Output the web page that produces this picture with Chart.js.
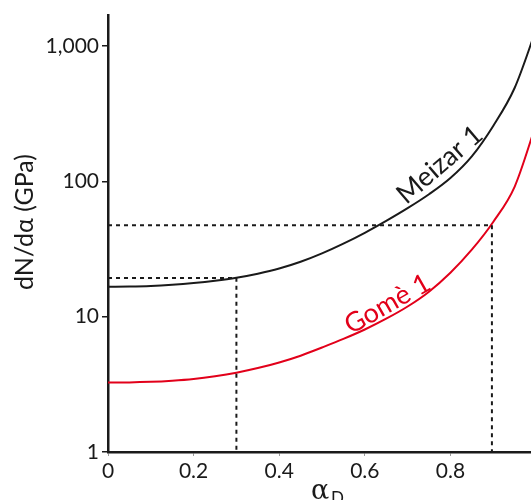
<!DOCTYPE html>
<html>
<head>
<meta charset="utf-8">
<script src="https://cdn.jsdelivr.net/npm/chart.js@4.4.1/dist/chart.umd.min.js"></script>
<style>
html,body{margin:0;padding:0;overflow:hidden;background:#fff;width:531px;height:500px;}
canvas{display:block;}
</style>
</head>
<body>
<canvas id="c" width="556" height="500"></canvas>
<script>
// ---- data ----
const alpha   = [0, 0.05, 0.1, 0.15, 0.2, 0.25, 0.3, 0.35, 0.4, 0.45, 0.5, 0.55, 0.6, 0.65, 0.7, 0.75, 0.8, 0.85, 0.9, 0.95, 1.0];
const meizar1 = [16.67, 16.71, 16.87, 17.22, 17.74, 18.45, 19.41, 20.8, 22.7, 25.47, 29.38, 34.67, 41.69, 51.05, 63.39, 80.35, 105.9, 153.1, 257, 490, 1318];
const gome1   = [3.266, 3.27, 3.30, 3.365, 3.467, 3.63, 3.855, 4.17, 4.59, 5.15, 5.92, 6.85, 8.04, 9.66, 11.89, 15.31, 21.13, 31.26, 50.1, 91.2, 263];
const guideX  = [0.3, 0.897];      // dashed vertical guides (alpha_D)
const guideY  = [19.3, 47.5];      // dashed horizontal guides (GPa)
const yTicks  = [1, 10, 100, 1000];
const xTicks  = [0, 0.2, 0.4, 0.6, 0.8, 1];
const seriesNames  = ['Meizar 1', 'Gomè 1'];
const labelAnchors = [[0.775, 133], [0.653, 12.4]]; // curve label anchor points (data coords)
const yTitle = 'dN/dα (GPa)';

const BLACK = '#1a1a1a', RED = '#e2001a';
const FONT = 'Lato, "Open Sans", sans-serif';

const toXY = (ys) => alpha.map((a, i) => ({x: a, y: ys[i]}));
const guide = (gx, gy) => [{x: 0, y: gy}, {x: gx, y: gy}, {x: gx, y: 1}];

const labelPlugin = {
  id: 'curveLabels',
  afterDatasetsDraw(chart) {
    const {ctx, scales: {x, y}} = chart;
    const specs = [
      {text: seriesNames[0], color: BLACK, angle: -40.7, a: labelAnchors[0]},
      {text: seriesNames[1], color: RED, angle: -29.6, a: labelAnchors[1]}
    ];
    specs.forEach(s => {
      ctx.save();
      ctx.translate(x.getPixelForValue(s.a[0]), y.getPixelForValue(s.a[1]));
      ctx.rotate(s.angle * Math.PI / 180);
      ctx.fillStyle = s.color;
      ctx.font = '27px ' + FONT;
      ctx.textAlign = 'center';
      ctx.textBaseline = 'middle';
      ctx.fillText(s.text, 0, 0);
      ctx.restore();
    });
    // y-axis title
    ctx.save();
    ctx.translate(25, 222);
    ctx.rotate(-Math.PI / 2);
    ctx.fillStyle = BLACK;
    ctx.font = '25px ' + FONT;
    ctx.textAlign = 'center';
    ctx.textBaseline = 'middle';
    ctx.fillText(yTitle, 0, 0);
    ctx.restore();
    // x-axis title alpha with subscript D
    ctx.save();
    ctx.fillStyle = BLACK;
    ctx.textBaseline = 'alphabetic';
    ctx.textAlign = 'left';
    ctx.font = '27px "DejaVu Serif", serif';
    ctx.fillText('α', 311, 499);
    ctx.font = '17px ' + FONT;
    ctx.fillText('D', 331, 504);
    ctx.restore();
  }
};

new Chart(document.getElementById('c'), {
  type: 'line',
  data: {
    datasets: [
      {label: 'guide1', data: guide(guideX[0], guideY[0]), borderColor: BLACK, borderWidth: 2, borderDash: [4, 4], pointRadius: 0, fill: false, tension: 0},
      {label: 'guide2', data: guide(guideX[1], guideY[1]), borderColor: BLACK, borderWidth: 2, borderDash: [4, 4], pointRadius: 0, fill: false, tension: 0},
      {label: seriesNames[0], data: toXY(meizar1), borderColor: BLACK, borderWidth: 2, pointRadius: 0, cubicInterpolationMode: 'monotone', fill: false},
      {label: seriesNames[1], data: toXY(gome1), borderColor: RED, borderWidth: 2, pointRadius: 0, cubicInterpolationMode: 'monotone', fill: false}
    ]
  },
  options: {
    responsive: false,
    animation: false,
    devicePixelRatio: 1,
    layout: {padding: {left: 0, right: 20, top: 13, bottom: 0}},
    plugins: {legend: {display: false}, tooltip: {enabled: false}},
    scales: {
      x: {
        type: 'linear', min: 0, max: 1,
        afterBuildTicks: (s) => { s.ticks = xTicks.map(v => ({value: v})); },
        afterFit: (s) => { s.height = 48; },
        grid: {drawOnChartArea: false, drawTicks: true, tickLength: 4, color: '#9a9a9a', lineWidth: 1},
        border: {display: true, color: BLACK, width: 2.5},
        ticks: {color: BLACK, font: {family: FONT, size: 21}, padding: 3, maxRotation: 0,
          callback: (v) => v === 0 || v === 1 ? String(v) : v.toFixed(1)}
      },
      y: {
        type: 'logarithmic', min: 1, max: 1680,
        afterBuildTicks: (s) => { s.ticks = yTicks.map(v => ({value: v})); },
        afterFit: (s) => { s.width = 108; },
        grid: {drawOnChartArea: false, drawTicks: true, tickLength: 6, color: BLACK, lineWidth: 1.5},
        border: {display: true, color: BLACK, width: 2.5},
        ticks: {color: BLACK, font: {family: FONT, size: 21}, padding: 3,
          callback: (v) => v.toLocaleString('en-US')}
      }
    }
  },
  plugins: [labelPlugin]
});
</script>
</body>
</html>
